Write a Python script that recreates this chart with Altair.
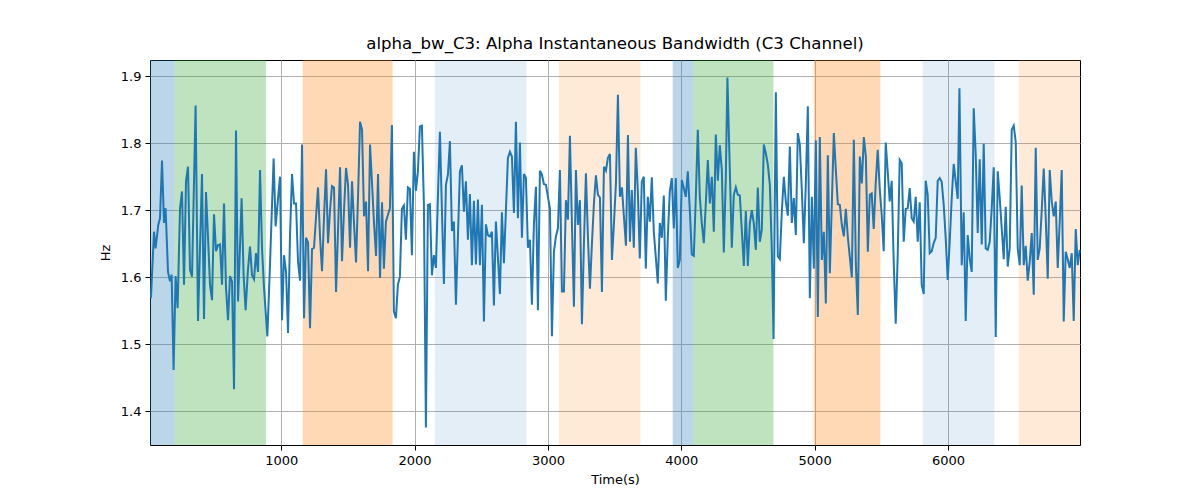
import altair as alt
import pandas as pd

time_s = [23, 46, 58, 78, 91, 106, 121, 133, 151, 166, 178, 193, 208, 223, 241, 256, 271, 286, 301, 316,
          331, 358, 376, 406, 421, 436, 451, 466, 481, 496, 511, 526, 541, 556, 571, 586, 601, 616, 631, 646,
          661, 676, 690, 703, 718, 733, 750, 766, 781, 796, 811, 826, 841, 856, 871, 896, 916, 943, 958, 975,
          991, 1006, 1021, 1036, 1051, 1066, 1081, 1096, 1111, 1126, 1141, 1156, 1171, 1186, 1201, 1216, 1231, 1246, 1261, 1276,
          1291, 1306, 1321, 1336, 1351, 1366, 1381, 1396, 1411, 1426, 1441, 1456, 1471, 1486, 1501, 1516, 1531, 1546, 1561, 1576,
          1591, 1606, 1621, 1636, 1651, 1666, 1681, 1696, 1711, 1726, 1741, 1756, 1770, 1785, 1800, 1815, 1830, 1845, 1860, 1875,
          1890, 1905, 1920, 1935, 1950, 1965, 1980, 1995, 2010, 2025, 2040, 2055, 2070, 2085, 2100, 2115, 2130, 2145, 2160, 2175,
          2190, 2205, 2220, 2235, 2250, 2265, 2280, 2295, 2310, 2325, 2340, 2355, 2370, 2385, 2400, 2415, 2430, 2445, 2460, 2475,
          2490, 2505, 2520, 2535, 2550, 2565, 2580, 2595, 2610, 2625, 2640, 2655, 2670, 2685, 2700, 2715, 2730, 2745, 2760, 2775,
          2790, 2805, 2820, 2835, 2850, 2865, 2880, 2895, 2910, 2925, 2940, 2955, 2970, 2985, 3000, 3015, 3030, 3045, 3060, 3075,
          3090, 3105, 3120, 3135, 3150, 3165, 3180, 3195, 3210, 3225, 3240, 3255, 3270, 3285, 3300, 3315, 3330, 3345, 3360, 3375,
          3390, 3405, 3420, 3435, 3450, 3465, 3480, 3495, 3510, 3525, 3540, 3555, 3570, 3585, 3600, 3615, 3629, 3644, 3659, 3674,
          3689, 3704, 3719, 3734, 3749, 3764, 3779, 3794, 3809, 3824, 3839, 3854, 3869, 3884, 3899, 3914, 3929, 3944, 3959, 3974,
          3989, 4004, 4019, 4034, 4049, 4064, 4079, 4094, 4109, 4124, 4139, 4154, 4169, 4184, 4199, 4214, 4229, 4244, 4259, 4274,
          4289, 4304, 4319, 4334, 4346, 4364, 4379, 4394, 4409, 4424, 4439, 4454, 4469, 4484, 4499, 4514, 4529, 4544, 4559, 4574,
          4589, 4604, 4619, 4634, 4649, 4664, 4679, 4692, 4709, 4724, 4739, 4754, 4769, 4784, 4799, 4814, 4829, 4844, 4859, 4874,
          4889, 4904, 4919, 4934, 4949, 4964, 4979, 4994, 5009, 5024, 5039, 5054, 5069, 5084, 5099, 5114, 5129, 5144, 5159, 5174,
          5189, 5204, 5219, 5234, 5249, 5264, 5279, 5294, 5309, 5324, 5339, 5354, 5369, 5384, 5399, 5414, 5428, 5443, 5458, 5473,
          5488, 5503, 5518, 5533, 5548, 5563, 5578, 5593, 5608, 5623, 5638, 5653, 5668, 5683, 5698, 5713, 5728, 5743, 5758, 5773,
          5788, 5803, 5818, 5833, 5848, 5863, 5878, 5893, 5908, 5923, 5938, 5953, 5968, 5983, 5998, 6013, 6028, 6043, 6058, 6073,
          6086, 6103, 6118, 6133, 6148, 6163, 6178, 6193, 6208, 6223, 6238, 6253, 6268, 6283, 6298, 6313, 6328, 6343, 6358, 6373,
          6388, 6403, 6418, 6433, 6448, 6463, 6478, 6493, 6508, 6523, 6538, 6553, 6568, 6583, 6598, 6613, 6628, 6643, 6658, 6673,
          6688, 6703, 6718, 6733, 6748, 6763, 6778, 6793, 6808, 6823, 6838, 6853, 6868, 6883, 6898, 6913, 6928, 6943, 6958, 6973,
          6988]

hz = [1.569, 1.668, 1.643, 1.678, 1.688, 1.774, 1.681, 1.703, 1.608, 1.594, 1.604, 1.462, 1.602, 1.554, 1.703, 1.728, 1.589, 1.743, 1.765, 1.611,
      1.601, 1.856, 1.535, 1.754, 1.538, 1.727, 1.660, 1.589, 1.566, 1.694, 1.639, 1.648, 1.649, 1.589, 1.710, 1.584, 1.536, 1.602, 1.594, 1.433,
      1.819, 1.564, 1.640, 1.718, 1.603, 1.551, 1.610, 1.646, 1.603, 1.597, 1.636, 1.608, 1.760, 1.643, 1.584, 1.512, 1.620, 1.777, 1.676, 1.715,
      1.750, 1.536, 1.633, 1.608, 1.517, 1.663, 1.754, 1.710, 1.710, 1.623, 1.595, 1.798, 1.539, 1.659, 1.652, 1.524, 1.642, 1.644, 1.690, 1.734,
      1.660, 1.609, 1.690, 1.761, 1.651, 1.700, 1.736, 1.734, 1.578, 1.670, 1.764, 1.624, 1.700, 1.763, 1.738, 1.644, 1.743, 1.680, 1.622, 1.720,
      1.832, 1.820, 1.691, 1.713, 1.609, 1.798, 1.740, 1.680, 1.632, 1.754, 1.599, 1.712, 1.613, 1.683, 1.693, 1.703, 1.827, 1.549, 1.539, 1.589,
      1.601, 1.702, 1.707, 1.656, 1.734, 1.732, 1.633, 1.787, 1.729, 1.758, 1.825, 1.826, 1.708, 1.376, 1.708, 1.709, 1.603, 1.633, 1.614, 1.720,
      1.817, 1.700, 1.590, 1.738, 1.753, 1.803, 1.669, 1.683, 1.559, 1.660, 1.758, 1.767, 1.698, 1.743, 1.656, 1.724, 1.618, 1.714, 1.619, 1.716,
      1.618, 1.708, 1.534, 1.679, 1.663, 1.661, 1.668, 1.558, 1.683, 1.630, 1.575, 1.697, 1.621, 1.700, 1.778, 1.787, 1.780, 1.696, 1.832, 1.688,
      1.801, 1.659, 1.754, 1.748, 1.644, 1.656, 1.559, 1.680, 1.735, 1.551, 1.759, 1.753, 1.739, 1.738, 1.720, 1.703, 1.512, 1.638, 1.661, 1.673,
      1.760, 1.579, 1.579, 1.715, 1.686, 1.811, 1.680, 1.556, 1.760, 1.678, 1.715, 1.530, 1.650, 1.755, 1.660, 1.583, 1.650, 1.710, 1.752, 1.723,
      1.719, 1.578, 1.765, 1.759, 1.778, 1.784, 1.626, 1.680, 1.740, 1.872, 1.720, 1.734, 1.690, 1.647, 1.812, 1.653, 1.730, 1.644, 1.793, 1.730,
      1.628, 1.743, 1.750, 1.613, 1.720, 1.683, 1.749, 1.668, 1.630, 1.591, 1.681, 1.659, 1.722, 1.565, 1.660, 1.728, 1.748, 1.673, 1.748, 1.614,
      1.626, 1.745, 1.733, 1.720, 1.758, 1.700, 1.634, 1.632, 1.720, 1.820, 1.720, 1.680, 1.651, 1.710, 1.775, 1.710, 1.750, 1.668, 1.813, 1.744,
      1.797, 1.760, 1.637, 1.750, 1.898, 1.760, 1.644, 1.723, 1.734, 1.723, 1.722, 1.670, 1.617, 1.699, 1.617, 1.680, 1.700, 1.680, 1.641, 1.734,
      1.653, 1.671, 1.798, 1.785, 1.768, 1.738, 1.640, 1.508, 1.876, 1.631, 1.627, 1.698, 1.750, 1.713, 1.692, 1.795, 1.681, 1.718, 1.663, 1.815,
      1.798, 1.730, 1.651, 1.740, 1.855, 1.569, 1.720, 1.613, 1.804, 1.541, 1.809, 1.626, 1.668, 1.561, 1.782, 1.606, 1.710, 1.815, 1.760, 1.709,
      1.708, 1.678, 1.661, 1.702, 1.660, 1.630, 1.600, 1.805, 1.620, 1.544, 1.780, 1.740, 1.809, 1.780, 1.638, 1.723, 1.725, 1.672, 1.740, 1.790,
      1.733, 1.693, 1.639, 1.801, 1.758, 1.713, 1.744, 1.623, 1.531, 1.633, 1.775, 1.770, 1.653, 1.702, 1.703, 1.733, 1.688, 1.683, 1.720, 1.653,
      1.712, 1.589, 1.575, 1.744, 1.723, 1.636, 1.639, 1.651, 1.659, 1.744, 1.748, 1.742, 1.708, 1.658, 1.596, 1.653, 1.718, 1.769, 1.743, 1.717,
      1.882, 1.618, 1.697, 1.535, 1.663, 1.628, 1.608, 1.852, 1.783, 1.666, 1.776, 1.649, 1.799, 1.643, 1.641, 1.653, 1.703, 1.764, 1.511, 1.758,
      1.718, 1.673, 1.627, 1.705, 1.616, 1.643, 1.820, 1.826, 1.802, 1.643, 1.618, 1.737, 1.618, 1.647, 1.595, 1.623, 1.666, 1.574, 1.793, 1.626,
      1.643, 1.700, 1.762, 1.688, 1.598, 1.760, 1.713, 1.691, 1.713, 1.614, 1.683, 1.760, 1.534, 1.638, 1.627, 1.614, 1.636, 1.535, 1.672, 1.618,
      1.641]

span_start = [16, 201, 1161, 2152, 3082, 3936, 4089, 4993, 5810, 6530]
span_end = [201, 886, 1835, 2839, 3694, 4089, 4691, 5493, 6348, 6990]
span_kind = ["s1", "s2", "s3", "s4", "s5", "s1", "s2", "s3", "s4", "s5"]

x_ticks = [1000, 2000, 3000, 4000, 5000, 6000]
y_ticks = [1.4, 1.5, 1.6, 1.7, 1.8, 1.9]

line_df = pd.DataFrame({"t": time_s, "hz": hz})
span_df = pd.DataFrame({"start": span_start, "end": span_end, "kind": span_kind})

FONT = "DejaVu Sans"
xscale = alt.Scale(domain=[16, 6990], nice=False, zero=False)
yscale = alt.Scale(domain=[1.35, 1.924], nice=False, zero=False)

spans = alt.Chart(span_df).mark_rect().encode(
    x=alt.X("start:Q", scale=xscale),
    x2="end:Q",
    color=alt.Color(
        "kind:N",
        scale=alt.Scale(
            domain=["s1", "s2", "s3", "s4", "s5"],
            range=["rgba(31,119,180,0.3)", "rgba(44,160,44,0.3)", "rgba(255,127,14,0.3)",
                   "rgba(31,119,180,0.12)", "rgba(255,127,14,0.16)"],
        ),
        legend=None,
    ),
)

line = alt.Chart(line_df).mark_line(color="#1f77b4", strokeWidth=2).encode(
    x=alt.X("t:Q", scale=xscale,
            axis=alt.Axis(title="Time(s)", values=x_ticks, format="d")),
    y=alt.Y("hz:Q", scale=yscale,
            axis=alt.Axis(title="Hz", values=y_ticks, format=".1f")),
)

chart = alt.layer(spans, line).properties(
    width=930,
    height=385,
    title=alt.TitleParams("alpha_bw_C3: Alpha Instantaneous Bandwidth (C3 Channel)",
                          font=FONT, fontSize=16.6, fontWeight="normal", color="black",
                          anchor="middle", offset=7),
    autosize=alt.AutoSizeParams(type="none"),
    padding={"left": 142, "top": 52, "right": 112, "bottom": 47},
).configure_view(
    stroke="black", strokeWidth=1
).configure_axis(
    grid=True, gridColor="#b0b0b0", gridWidth=1,
    domain=False,
    tickColor="black", tickSize=5, tickWidth=1,
    labelFont=FONT, labelFontSize=13, labelColor="black", labelPadding=4,
    titleFont=FONT, titleFontSize=13, titleColor="black", titleFontWeight="normal",
).configure_axisX(titlePadding=6).configure_axisY(titlePadding=8)

chart.save("out.html", embed_options={"renderer": "svg", "actions": False})
